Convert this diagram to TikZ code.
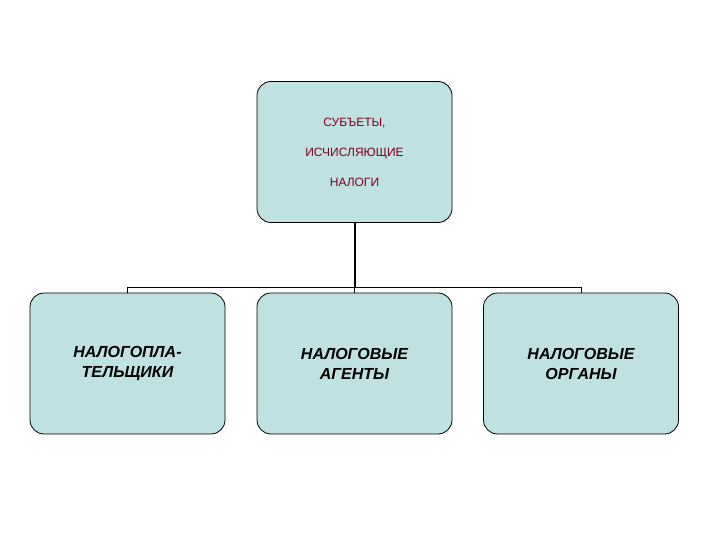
\documentclass[tikz,border=0pt]{standalone}
\usepackage{fontspec}
\setmainfont{Liberation Sans}
\definecolor{boxfill}{HTML}{BFE1E1}
\definecolor{toptext}{HTML}{800020}
\begin{document}
\begin{tikzpicture}[x=1pt,y=-1pt,
  box/.style={draw=black,line width=0.8pt,fill=boxfill,rounded corners=14pt,minimum width=195pt,minimum height=141pt,align=center,inner sep=0pt},
  conn/.style={line width=1pt}]
\useasboundingbox (0,0) rectangle (720,540);
\node[box,text=toptext,font=\fontsize{12}{30}\selectfont] (top) at (354.5,152) {СУБЪЕТЫ,\\ИСЧИСЛЯЮЩИЕ\\НАЛОГИ};
\node[box,font=\fontsize{16}{20}\selectfont\bfseries\itshape] (a) at (127.5,363.5) {НАЛОГОПЛА-\\ТЕЛЬЩИКИ};
\node[box,font=\fontsize{16}{20}\selectfont\bfseries\itshape] (b) at (354.5,363.5) {НАЛОГОВЫЕ\\АГЕНТЫ};
\node[box,font=\fontsize{16}{20}\selectfont\bfseries\itshape] (c) at (581,363.5) {НАЛОГОВЫЕ\\ОРГАНЫ};
\coordinate (j) at (354.5,287);
\draw[line width=2pt] (top.south) -- (j);
\draw[conn] (a.north) -- (a.north |- j) -- (c.north |- j) -- (c.north);
\draw[conn] (b.north) -- (j);
\end{tikzpicture}
\end{document}
